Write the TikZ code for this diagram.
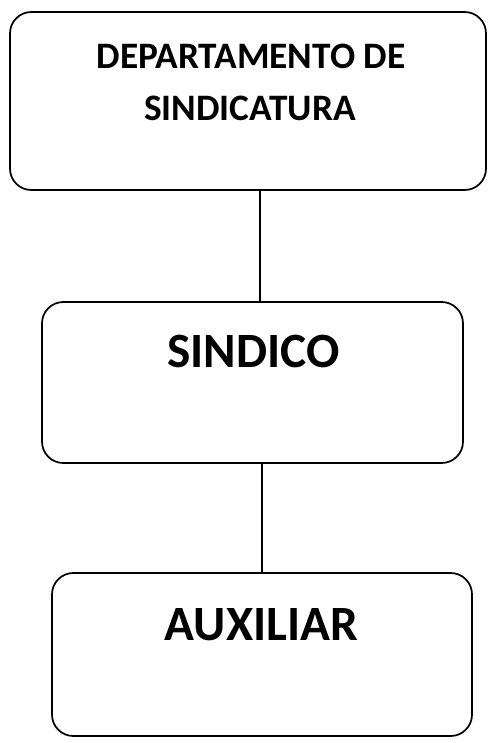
\documentclass[tikz,border=0pt]{standalone}
\usepackage{fontspec}
\setmainfont{Carlito}
\begin{document}
\begin{tikzpicture}[x=0.75pt,y=-0.75pt,
  box/.style={draw=black, line width=1.3pt, rounded corners=16pt, inner sep=0pt, fill=white},
  small/.style={anchor=base, inner sep=0pt, font=\fontsize{28}{32}\selectfont\bfseries},
  big/.style={anchor=base, inner sep=0pt, font=\fontsize{37}{42}\selectfont\bfseries},
  conn/.style={draw=black, line width=2.2pt}]
\useasboundingbox (0,0) rectangle (487,743);
\node[box, minimum width=357pt, minimum height=133.5pt] (b1) at (248,101) {};
\node[box, minimum width=315.75pt, minimum height=120.75pt] (b2) at (252.5,382.5) {};
\node[box, minimum width=315pt, minimum height=122.25pt] (b3) at (262,654.5) {};
\node[small] (t1a) at (251,68) {DEPARTAMENTO DE};
\node[small] (t1b) at (250,120) {SINDICATURA};
\node[big] (t2) at (253.5,367) {SINDICO};
\node[big] (t3) at (261.5,640) {AUXILIAR};
\coordinate (c1) at (260,0);
\coordinate (c2) at (262,0);
\draw[conn] (b1.south -| c1) -- (b2.north -| c1);
\draw[conn] (b2.south -| c2) -- (b3.north -| c2);
\end{tikzpicture}
\end{document}
